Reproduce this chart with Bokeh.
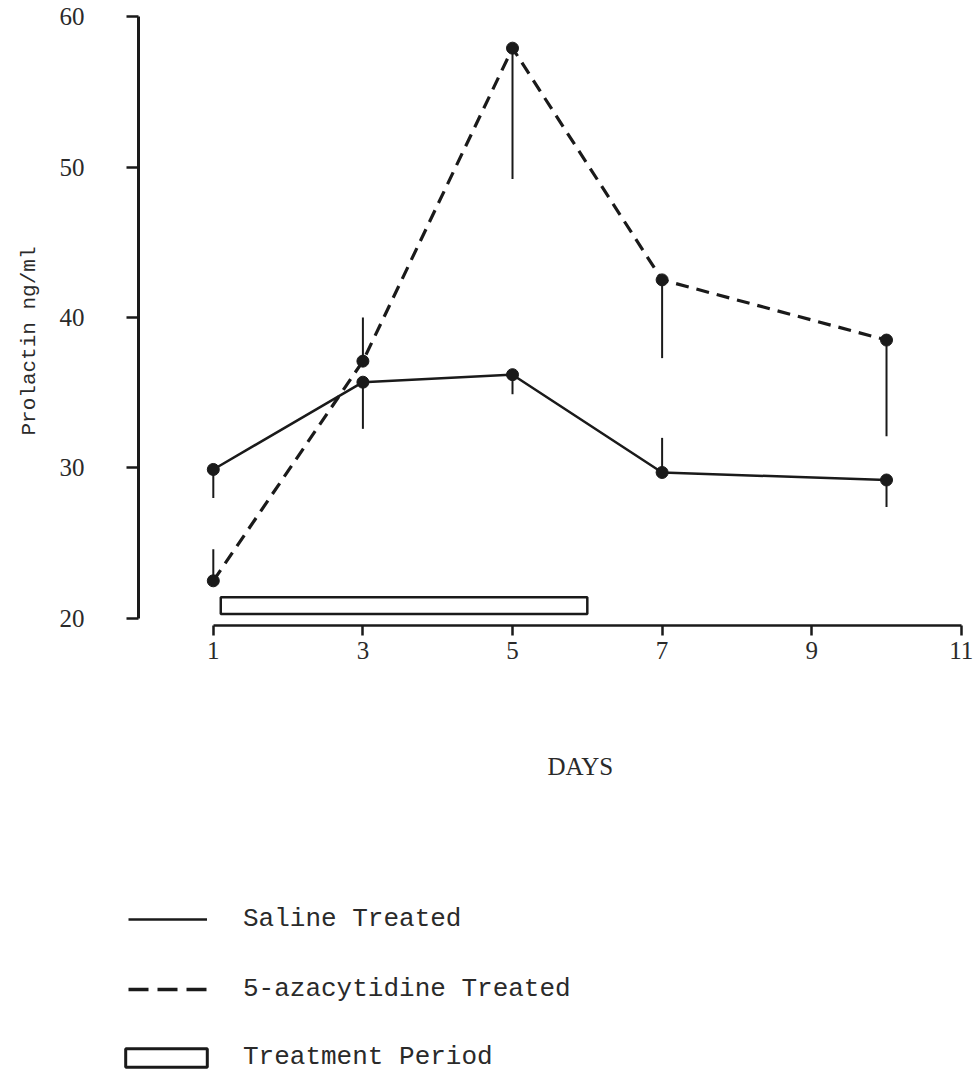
from bokeh.plotting import figure
from bokeh.models import Range1d, LinearAxis, FixedTicker, Legend, LegendItem, Title
from bokeh.embed import file_html
from bokeh.resources import INLINE

# ---- data ----
days = [1, 3, 5, 7, 10]
saline = [29.9, 35.7, 36.2, 29.7, 29.2]
saline_err_end = [28.0, 32.6, 34.9, 32.0, 27.4]
aza = [22.5, 37.1, 57.9, 42.5, 38.5]
aza_err_end = [24.6, 40.0, 49.2, 37.3, 32.1]
treat_start = [1.1]
treat_end = [6.0]
treat_bottom = [20.3]
treat_top = [21.4]
x_ticks = [1, 3, 5, 7, 9, 11]
y_ticks = [20, 30, 40, 50, 60]
labels = ["Saline Treated", "5-azacytidine Treated", "Treatment Period"]

INK = "#1a1a1a"
TXT = "#2a2a2a"
W = 976
PH = 872
NAN = float("nan")

p = figure(width=W, height=PH,
           x_range=Range1d(0, 11.096), y_range=Range1d(19.53, 60.27),
           x_axis_type=None, y_axis_type=None,
           output_backend="svg", toolbar_location=None,
           min_border_left=138, min_border_right=W - 968,
           min_border_top=12, min_border_bottom=PH - 625)
p.outline_line_color = None

yaxis = LinearAxis(bounds=(20, 60), ticker=FixedTicker(ticks=y_ticks))
xaxis = LinearAxis(bounds=(1, 11), ticker=FixedTicker(ticks=x_ticks))
for ax in (yaxis, xaxis):
    ax.axis_line_color = INK
    ax.major_tick_line_color = INK
    ax.minor_tick_line_color = None
    ax.major_tick_in = 0
    ax.major_label_text_font = "Liberation Serif"
    ax.major_label_text_font_size = "25px"
    ax.major_label_text_color = TXT
yaxis.axis_line_width = 3
yaxis.major_tick_line_width = 2.5
yaxis.major_tick_out = 12
yaxis.major_label_standoff = 42
xaxis.axis_line_width = 2.5
xaxis.major_tick_line_width = 2.5
xaxis.major_tick_out = 10
xaxis.major_label_standoff = 6
p.add_layout(yaxis, "left")
p.add_layout(xaxis, "below")

ylab = Title(text="Prolactin ng/ml", align="left", offset=190, standoff=31,
             text_font="Liberation Mono", text_font_size="21px",
             text_font_style="normal", text_color=TXT)
xlab = Title(text="DAYS", align="left", offset=409, standoff=178,
             text_font="Liberation Serif", text_font_size="25px",
             text_font_style="normal", text_color=TXT)
p.add_layout(ylab, "left")
p.add_layout(xlab, "below")

# treatment period bar
p.quad(left=treat_start, right=treat_end, bottom=treat_bottom, top=treat_top,
       fill_color="white", line_color=INK, line_width=2.5)

# error bars
p.segment(x0=days, y0=saline, x1=days, y1=saline_err_end, line_color=INK, line_width=2)
p.segment(x0=days, y0=aza, x1=days, y1=aza_err_end, line_color=INK, line_width=2)

# series
p.line(days, saline, line_color=INK, line_width=2.5)
p.line(days, aza, line_color=INK, line_width=3.2, line_dash="13 8")
p.scatter(days, saline, size=12, color=INK)
p.scatter(days, aza, size=12, color=INK)

# ---- key below the chart (separate root, frame starts at its left edge) ----
LH = 1072 - PH
q = figure(width=W, height=LH, x_range=Range1d(0, 1), y_range=Range1d(0, 1),
           x_axis_type=None, y_axis_type=None,
           output_backend="svg", toolbar_location=None,
           min_border_left=0, min_border_right=0, min_border_top=0, min_border_bottom=0)
q.outline_line_color = None
k_sal = q.line(x=[NAN], y=[NAN], line_color=INK, line_width=2.5)
k_aza = q.line(x=[NAN], y=[NAN], line_color=INK, line_width=3.5, line_dash="20 9")
k_trt = q.quad(left=[NAN], right=[NAN], bottom=[NAN], top=[NAN], fill_color="white",
               line_color=INK, line_width=3)

common = dict(padding=0, margin=0, border_line_color=None,
              background_fill_alpha=0, label_text_font="Liberation Mono",
              label_text_font_size="26px", label_text_color=TXT)
legA = Legend(items=[LegendItem(label=labels[0], renderers=[k_sal]),
                     LegendItem(label=labels[1], renderers=[k_aza])],
              location=(128, 1072 - 1004), glyph_width=79, glyph_height=30,
              label_height=30, spacing=40, label_standoff=36, **common)
legB = Legend(items=[LegendItem(label=labels[2], renderers=[k_trt])],
              location=(115, 0), glyph_width=102, glyph_height=23,
              label_height=23, label_standoff=26, **common)
q.add_layout(legA)
q.add_layout(legB)

open("out.html", "w").write(file_html([p, q], INLINE))
